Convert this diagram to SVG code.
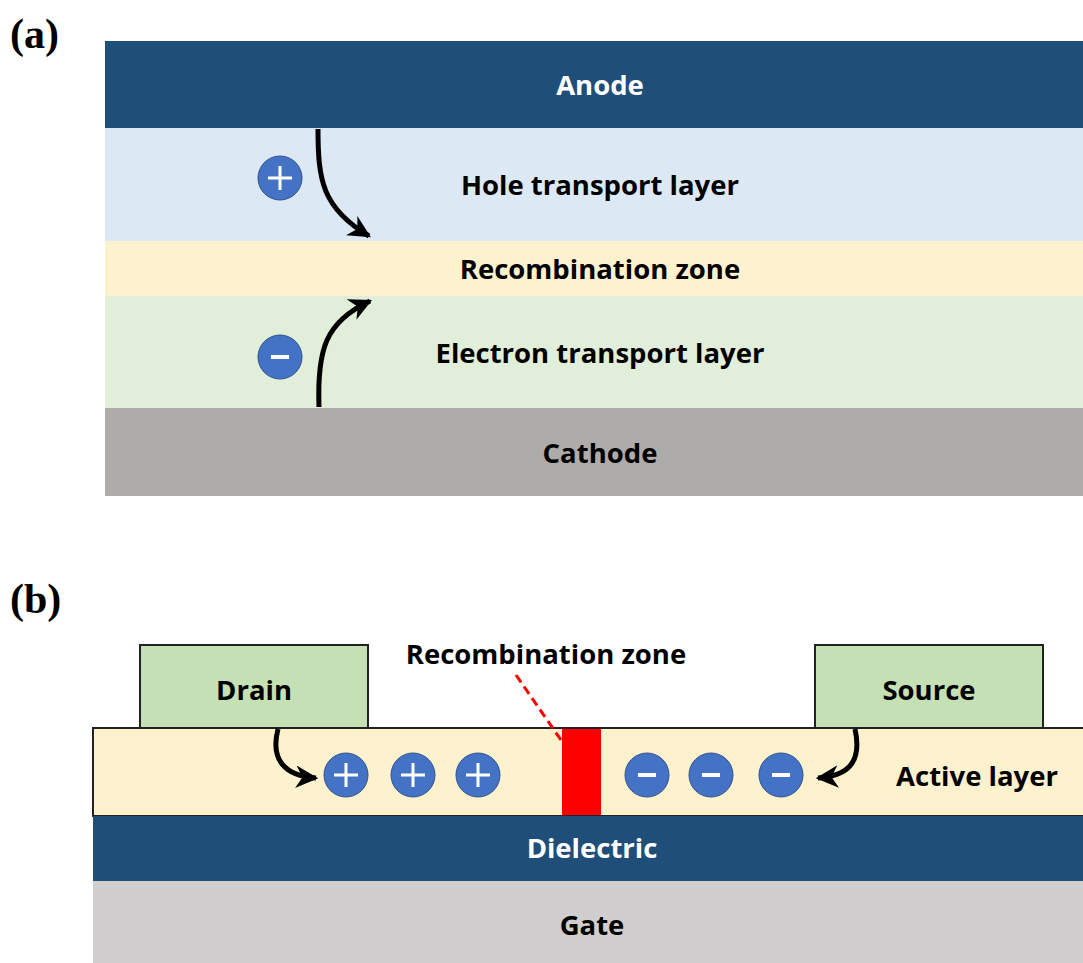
<svg xmlns="http://www.w3.org/2000/svg" width="1083" height="963" viewBox="0 0 1083 963">
<style>
.t{font-family:"Open Sans",Lato,sans-serif;font-weight:bold;font-size:27.5px;text-anchor:middle;fill:#000}
.tw{font-family:"Open Sans",Lato,sans-serif;font-weight:bold;font-size:27.5px;text-anchor:middle;fill:#fff}
.lab{font-family:"Liberation Serif",serif;font-weight:bold;font-size:42px;fill:#000}
.chg{fill:#4472c4;stroke:#2f528f;stroke-width:1}
.sym{stroke:#fff;stroke-width:3;fill:none}
.arr{fill:none;stroke:#000;stroke-width:5}
.box{stroke:#222;stroke-width:2}
</style>
<defs>
<marker id="ah" viewBox="0 0 10 10" refX="9" refY="5" markerWidth="4.5" markerHeight="4.5" orient="auto" markerUnits="strokeWidth">
<path d="M0,0 L10,5 L0,10 L3,5 Z" fill="#000"/>
</marker>
<g id="plus"><circle class="chg" r="22"/><path class="sym" d="M-12,0 H12 M0,-12 V12"/></g>
<g id="minus"><circle class="chg" r="22"/><path d="M-9,0 H9" stroke="#fff" stroke-width="4"/></g>
</defs>
<rect width="1083" height="963" fill="#fff"/>
<text class="lab" x="10" y="48">(a)</text>
<text class="lab" x="10" y="613">(b)</text>

<g id="anode"><rect x="105" y="41" width="978" height="87" fill="#1f4e79"/><text class="tw" x="600" y="95">Anode</text></g>
<g id="htl"><rect x="105" y="128" width="978" height="113" fill="#dde8f5"/><text class="t" x="600" y="195">Hole transport layer</text></g>
<g id="recomb-a"><rect x="105" y="241" width="978" height="55" fill="#fef1cd"/><text class="t" x="600" y="279">Recombination zone</text></g>
<g id="etl"><rect x="105" y="296" width="978" height="112" fill="#e1eed9"/><text class="t" x="600" y="363">Electron transport layer</text></g>
<g id="cathode"><rect x="105" y="408" width="978" height="88" fill="#aeabab"/><text class="t" x="600" y="463">Cathode</text></g>
<g id="hole-a"><use href="#plus" x="280" y="178"/></g>
<g id="electron-a"><use href="#minus" x="280" y="357"/></g>

<g id="active"><rect class="box" x="93" y="728" width="996" height="88" fill="#fef1cd"/><text class="t" x="977" y="786">Active layer</text></g>
<g id="drain"><rect class="box" x="140" y="645" width="228" height="83" fill="#c5e0b4"/><text class="t" x="254" y="700">Drain</text></g>
<g id="source"><rect class="box" x="815" y="645" width="228" height="83" fill="#c5e0b4"/><text class="t" x="929" y="700">Source</text></g>
<g id="dielectric"><rect x="93" y="816" width="990" height="65" fill="#1f4e79"/><text class="tw" x="592" y="858">Dielectric</text></g>
<g id="gate"><rect x="93" y="881" width="990" height="82" fill="#d0cece"/><text class="t" x="592" y="935">Gate</text></g>
<g id="recomb-b"><rect x="562" y="729" width="39" height="86" fill="#ff0000"/><text class="t" x="546" y="664">Recombination zone</text></g>
<g id="holes-b"><use href="#plus" x="346" y="775"/><use href="#plus" x="413" y="775"/><use href="#plus" x="478" y="775"/></g>
<g id="electrons-b"><use href="#minus" x="647" y="775"/><use href="#minus" x="711" y="775"/><use href="#minus" x="781" y="775"/></g>

<g id="connectors">
<path class="arr" d="M318,129 C318,180 322,208 369,236" marker-end="url(#ah)"/>
<path class="arr" d="M319,407 C317,350 325,322 370,301" marker-end="url(#ah)"/>
<path class="arr" d="M278,729 C270,760 285,776 316,778" marker-end="url(#ah)"/>
<path class="arr" d="M855,729 C863,765 845,776 818,778" marker-end="url(#ah)"/>
<path d="M516,675 L561,740" stroke="#ff0000" stroke-width="3" stroke-dasharray="9,5" fill="none"/>
</g>
</svg>
